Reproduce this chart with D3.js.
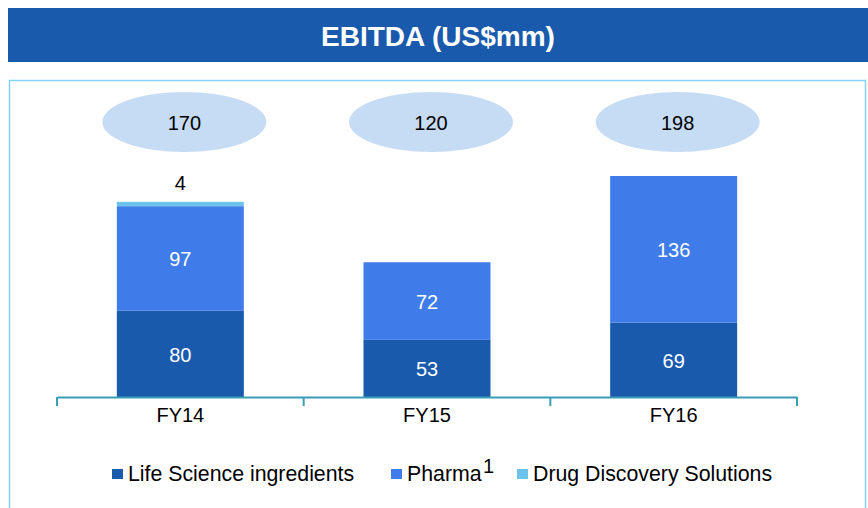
<!DOCTYPE html>
<html>
<head>
<meta charset="utf-8">
<script src="https://cdn.jsdelivr.net/npm/d3@7"></script>
<style>
  body { margin: 0; background: #fff; }
  svg { display: block; font-family: "Liberation Sans", Arial, sans-serif; }
</style>
</head>
<body>
<div id="chart"></div>
<script>
const categories = ["FY14", "FY15", "FY16"];
const lifeScience = [80, 53, 69];
const pharma = [97, 72, 136];
const drugDiscovery = [4, 0, 0];
const totals = [170, 120, 198];
const seriesNames = ["Life Science ingredients", "Pharma", "Drug Discovery Solutions"];

const COLORS = ["#1a5aad", "#407ce9", "#6bc3ec"];
const width = 868;
const height = 508;
const margin = { left: 57, right: 70, baseline: 397 };

const svg = d3.select("#chart")
  .append("svg")
  .attr("width", width)
  .attr("height", height);

// title bar
svg.append("rect")
  .attr("x", 8).attr("y", 8)
  .attr("width", 862).attr("height", 54)
  .attr("fill", "#1a5aad");

svg.append("text")
  .attr("x", 438).attr("y", 46)
  .attr("text-anchor", "middle")
  .attr("fill", "#fff")
  .attr("font-size", 28)
  .attr("font-weight", "bold")
  .text("EBITDA (US$mm)");

// panel border
svg.append("rect")
  .attr("x", 9.5).attr("y", 80.5)
  .attr("width", 856).attr("height", 440)
  .attr("fill", "none")
  .attr("stroke", "#86d0f2")
  .attr("stroke-width", 1.5);

const data = categories.map((c, i) => ({
  cat: c,
  life: lifeScience[i],
  pharma: pharma[i],
  drug: drugDiscovery[i]
}));

const stack = d3.stack().keys(["life", "pharma", "drug"]);
const series = stack(data);

const x = d3.scaleBand()
  .domain(categories)
  .range([margin.left, width - margin.right - 1])
  .paddingInner(0)
  .paddingOuter(0);

const y = d3.scaleLinear()
  .domain([0, 205])
  .range([margin.baseline, 176]);

const barW = 127;

svg.append("g")
  .selectAll("g")
  .data(series)
  .join("g")
  .attr("fill", (d, i) => COLORS[i])
  .selectAll("rect")
  .data((d) => d)
  .join("rect")
  .attr("x", (d) => x(d.data.cat) + x.bandwidth() / 2 - barW / 2)
  .attr("y", (d) => y(d[1]))
  .attr("width", barW)
  .attr("height", (d) => y(d[0]) - y(d[1]));

// segment labels (inside)
series.slice(0, 2).forEach((s) => {
  svg.append("g")
    .selectAll("text")
    .data(s)
    .join("text")
    .attr("x", (d) => x(d.data.cat) + x.bandwidth() / 2)
    .attr("y", (d) => (y(d[0]) + y(d[1])) / 2 + 1)
    .attr("dy", "0.35em")
    .attr("text-anchor", "middle")
    .attr("fill", "#fff")
    .attr("font-size", 20)
    .text((d) => d[1] - d[0]);
});

// small drug discovery label above bar
svg.append("g")
  .selectAll("text")
  .data(series[2].filter((d) => d[1] - d[0] > 0))
  .join("text")
  .attr("x", (d) => x(d.data.cat) + x.bandwidth() / 2)
  .attr("y", (d) => y(d[1]) - 12)
  .attr("text-anchor", "middle")
  .attr("fill", "#000")
  .attr("font-size", 20)
  .text((d) => d[1] - d[0]);

// total ellipses
const tot = svg.append("g")
  .selectAll("g")
  .data(categories)
  .join("g")
  .attr("transform", (d) => `translate(${x(d) + x.bandwidth() / 2 + 4},122)`);

tot.append("ellipse")
  .attr("rx", 82).attr("ry", 30)
  .attr("fill", "#c6dbf4");

tot.append("text")
  .attr("text-anchor", "middle")
  .attr("dy", "0.4em")
  .attr("font-size", 20)
  .attr("fill", "#000")
  .text((d, i) => totals[i]);

// x axis
const axis = svg.append("g")
  .attr("transform", `translate(0,${margin.baseline})`)
  .call(d3.axisBottom(x).tickSize(0).tickSizeOuter(0));

axis.select(".domain").attr("stroke", "#3b9db5").attr("stroke-width", 2);
axis.selectAll("text")
  .attr("font-size", 20)
  .attr("fill", "#000")
  .attr("font-family", "Liberation Sans, Arial, sans-serif")
  .attr("dy", "1.1em");

// category separators
const edges = categories.map((c) => x(c)).concat([x.range()[1]]);
axis.selectAll(".sep")
  .data(edges)
  .join("line")
  .attr("class", "sep")
  .attr("x1", (d) => d).attr("x2", (d) => d)
  .attr("y1", 0).attr("y2", 9)
  .attr("stroke", "#3b9db5")
  .attr("stroke-width", 2);

// legend
const legendItems = [
  { name: seriesNames[0], x: 112, sup: false },
  { name: seriesNames[1], x: 391, sup: true },
  { name: seriesNames[2], x: 517, sup: false }
];

const leg = svg.append("g")
  .selectAll("g")
  .data(legendItems)
  .join("g")
  .attr("transform", (d) => `translate(${d.x},481)`);

leg.append("rect")
  .attr("x", 0).attr("y", -12)
  .attr("width", 11).attr("height", 10)
  .attr("fill", (d, i) => COLORS[i]);

leg.append("text")
  .attr("x", 16)
  .attr("font-size", 21.3)
  .attr("fill", "#000")
  .text((d) => d.name);

leg.filter((d) => d.sup)
  .append("text")
  .attr("x", 92)
  .attr("y", -8)
  .attr("font-size", 20)
  .attr("fill", "#000")
  .text("1");
</script>
</body>
</html>
